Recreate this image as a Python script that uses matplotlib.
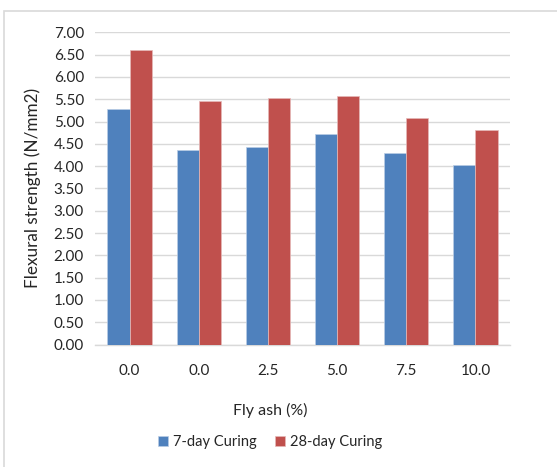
import numpy as np
import matplotlib.pyplot as plt
from matplotlib.patches import Rectangle

plt.rcParams['font.family'] = ['Lato', 'DejaVu Sans']

fly_ash = ['0.0', '0.0', '2.5', '5.0', '7.5', '10.0']
curing_7 = [5.28, 4.36, 4.42, 4.71, 4.30, 4.02]
curing_28 = [6.61, 5.46, 5.52, 5.57, 5.08, 4.80]

fig = plt.figure(figsize=(5.57, 4.67), dpi=100)
# chart frame
fig.patches.append(Rectangle((4/557, -0.05), 1.0, 1 - 11/467 + 0.05, transform=fig.transFigure,
                             fill=False, edgecolor='#d9d9d9', linewidth=1.2))
ax = fig.add_axes([0.1706, 0.2623, 0.745, 0.6685])

x = np.arange(len(fly_ash))
w = 0.32
ax.bar(x - w/2, curing_7, w, color='#4F81BD', edgecolor='#b9cde5', linewidth=0.5, label='7-day Curing', zorder=3)
ax.bar(x + w/2, curing_28, w, color='#C0504D', edgecolor='#e6b9b8', linewidth=0.5, label='28-day Curing', zorder=3)

ax.set_ylim(0, 7)
ax.set_xlim(-0.5, len(fly_ash) - 0.5)
ax.set_yticks(np.arange(0, 7.01, 0.5))
ax.set_yticklabels(['%.2f' % v for v in np.arange(0, 7.01, 0.5)])
ax.set_xticks(x)
ax.set_xticklabels(fly_ash)
ax.grid(axis='y', color='#d9d9d9', linewidth=1, zorder=0)
for s in ['top', 'right', 'left']:
    ax.spines[s].set_visible(False)
ax.spines['bottom'].set_color('#d9d9d9')
ax.spines['bottom'].set_linewidth(1)
ax.tick_params(axis='both', length=0, labelsize=11, colors='#262626')
ax.tick_params(axis='x', pad=14)
ax.tick_params(axis='y', pad=8)

ax.set_ylabel('Flexural strength (N/mm2)', fontsize=12.3, color='#262626', labelpad=9)
fig.text(270/557, 1 - 410/467, 'Fly ash (%)', fontsize=11.5, color='#262626', ha='center', va='center')

h, l = ax.get_legend_handles_labels()
fig.legend(h, l, loc='center', bbox_to_anchor=(270/557, 1 - 442/467), ncol=2, frameon=False,
           fontsize=10.5, handlelength=0.7, handleheight=0.7, handletextpad=0.3, columnspacing=1.3,
           labelcolor='#262626')

fig.savefig('out.png', dpi=100)
